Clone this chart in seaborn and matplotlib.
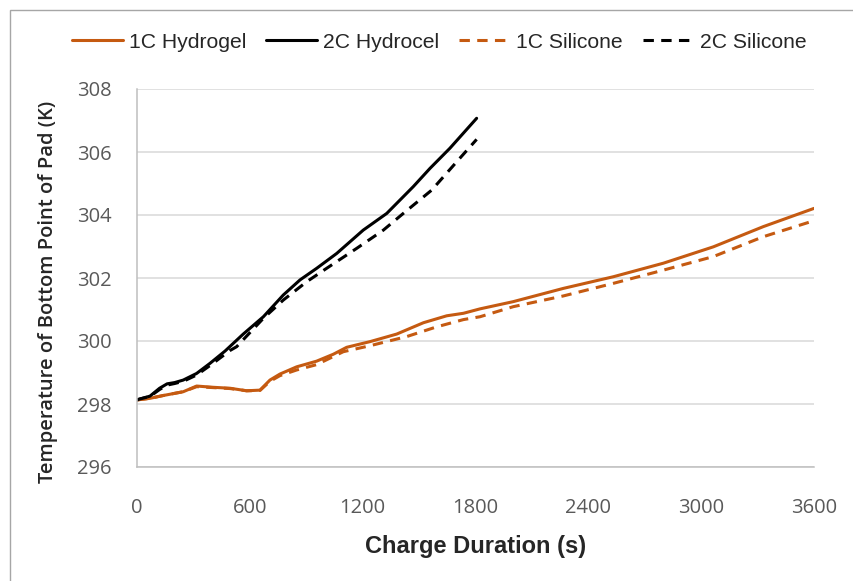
import pandas as pd
import matplotlib.pyplot as plt
import seaborn as sns
from matplotlib.lines import Line2D
from matplotlib.patches import Rectangle

# values (time in s, temperature in K)
t_1c_gel = [0, 69, 140, 246, 317, 406, 495, 583, 654, 707, 760, 849, 955, 1044, 1115,
            1239, 1381, 1523, 1647, 1736, 1824, 2001, 2267, 2533, 2799, 3065, 3330, 3600]
T_1c_gel = [298.13, 298.18, 298.27, 298.39, 298.57, 298.53, 298.50, 298.42, 298.44, 298.76,
            298.95, 299.18, 299.36, 299.58, 299.80, 299.98, 300.22, 300.58, 300.80, 300.88,
            301.02, 301.25, 301.67, 302.04, 302.47, 302.99, 303.63, 304.21]

t_2c_gel = [0, 16, 69, 120, 160, 200, 246, 317, 388, 468, 565, 672, 778, 867, 956, 1062,
            1203, 1328, 1469, 1558, 1664, 1806]
T_2c_gel = [298.13, 298.16, 298.25, 298.50, 298.64, 298.68, 298.76, 298.97, 299.29, 299.68,
            300.22, 300.77, 301.46, 301.94, 302.31, 302.78, 303.52, 304.05, 304.90, 305.48,
            306.12, 307.07]

t_1c_sil = [0, 69, 140, 246, 317, 406, 495, 583, 654, 707, 760, 849, 955, 1097, 1239,
            1434, 1594, 1736, 1824, 2001, 2267, 2533, 2799, 3065, 3330, 3600]
T_1c_sil = [298.13, 298.18, 298.27, 298.39, 298.55, 298.52, 298.49, 298.42, 298.43, 298.72,
            298.90, 299.08, 299.25, 299.66, 299.85, 300.14, 300.45, 300.68, 300.77, 301.09,
            301.43, 301.83, 302.25, 302.68, 303.31, 303.82]

t_2c_sil = [0, 16, 69, 120, 160, 200, 246, 317, 388, 495, 530, 672, 778, 902, 1009, 1168,
            1310, 1416, 1567, 1709, 1806]
T_2c_sil = [298.13, 298.16, 298.24, 298.46, 298.60, 298.65, 298.72, 298.92, 299.22, 299.70,
            299.82, 300.72, 301.30, 301.88, 302.31, 302.94, 303.52, 304.05, 304.79, 305.75,
            306.40]

labels = ["1C Hydrogel", "2C Hydrocel", "1C Silicone", "2C Silicone"]
x_ticks = [0, 600, 1200, 1800, 2400, 3000, 3600]
y_ticks = [296, 298, 300, 302, 304, 306, 308]

ORANGE = "#C55A11"
DASH = (0, (3.4, 2.4))
series = [
    (t_1c_gel, T_1c_gel, ORANGE, "-"),
    (t_2c_gel, T_2c_gel, "black", "-"),
    (t_1c_sil, T_1c_sil, ORANGE, DASH),
    (t_2c_sil, T_2c_sil, "black", DASH),
]

sns.set_theme(style="white")
plt.rcParams["font.family"] = ["Open Sans", "DejaVu Sans"]

fig = plt.figure(figsize=(8.54, 5.81), dpi=100)
ax = fig.add_axes([137 / 854, 1 - 467 / 581, 677 / 854, 378 / 581])

for (t, T, col, ls), lab in zip(series, labels):
    df = pd.DataFrame({"t": t, "T": T})
    sns.lineplot(data=df, x="t", y="T", ax=ax, color=col, linewidth=2.2,
                 linestyle=ls, label=lab, legend=False)

ax.set_xlim(0, 3600)
ax.set_ylim(296, 308)
ax.set_xticks(x_ticks)
ax.set_yticks(y_ticks)
ax.yaxis.grid(True, color="#d9d9d9", linewidth=1.1)
ax.set_axisbelow(True)
for s in ["top", "right"]:
    ax.spines[s].set_visible(False)
for s in ["left", "bottom"]:
    ax.spines[s].set_color("#bfbfbf")
    ax.spines[s].set_linewidth(1.1)
ax.tick_params(axis="both", colors="#bfbfbf", labelcolor="#595959",
               labelsize=14.5, length=6, width=1.1, direction="out")
ax.tick_params(axis="y", pad=12)
ax.tick_params(axis="x", pad=16)

ax.set_xlabel("Charge Duration (s)", fontsize=17, fontweight="bold",
              family=["Liberation Sans", "DejaVu Sans"])
ax.xaxis.set_label_coords(0.5, -(547 - 467) / 378, transform=ax.transAxes)
ax.xaxis.label.set_va("center")
ax.set_ylabel("Temperature of Bottom Point of Pad (K)", fontsize=14.5,
              fontweight="semibold")
ax.yaxis.set_label_coords(-(137 - 48) / 677, (467 - 291.5) / 378, transform=ax.transAxes)
ax.yaxis.label.set_va("center")

handles = [Line2D([], [], color=c, linewidth=2.2, linestyle=ls)
           for (_, _, c, ls) in series]
fig.legend(handles, labels, loc="center", bbox_to_anchor=(439 / 854, 1 - 42 / 581),
           ncol=4, frameon=False, handlelength=2.42, columnspacing=0.95,
           handletextpad=0.28, prop={"family": ["Liberation Sans", "DejaVu Sans"],
                                     "size": 15.2})

# outer chart border (only top and left visible in the reference)
fig.patches.append(Rectangle((10 / 854, -0.1), 1.2, 1 - 10 / 581 + 0.1,
                             transform=fig.transFigure, fill=False,
                             edgecolor="#a6a6a6", linewidth=1.0))

fig.savefig("out.png", dpi=100)
